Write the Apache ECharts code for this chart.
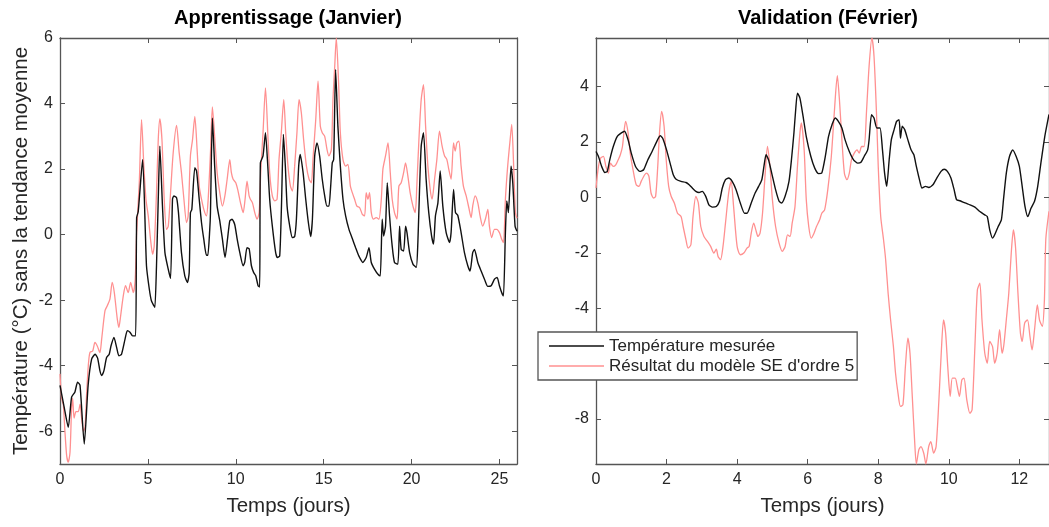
<!DOCTYPE html>
<html>
<head>
<meta charset="utf-8">
<script src="https://cdn.jsdelivr.net/npm/echarts@6/dist/echarts.min.js"></script>
<style>
  html, body { margin: 0; padding: 0; background: #fff; }
  #chart { width: 1049px; height: 527px; }
</style>
</head>
<body>
<div id="chart"></div>
<script>
// January (training) - measured temperature, [day, °C]
const janMeasured = [
  [0,-4.6],[0.25,-5.3],[0.47,-5.88],[0.66,-4.96],[0.85,-4.8],[1.0,-4.5],[1.14,-4.6],[1.38,-6.39],
  [1.6,-4.6],[1.8,-3.8],[2.0,-3.65],[2.14,-3.77],[2.27,-4.15],[2.37,-4.3],[2.5,-4.15],[2.65,-3.75],
  [2.8,-3.65],[2.9,-3.4],[3.07,-3.14],[3.22,-3.44],[3.35,-3.7],[3.5,-3.65],[3.7,-3.19],[3.83,-2.93],
  [3.98,-2.98],[4.13,-3.09],[4.3,-3.09],[4.36,0.52],[4.45,0.7],[4.7,2.29],[4.92,-0.95],[5.08,-1.66],
  [5.2,-2.02],[5.34,-2.17],[5.4,-2.22],[5.49,-0.95],[5.59,1.08],[5.68,2.7],[5.83,0.87],[5.97,-0.55],
  [6.16,-1.06],[6.29,-1.34],[6.4,1.08],[6.48,1.18],[6.63,1.13],[6.74,0.67],[6.91,-0.55],[7.1,-1.26],
  [7.25,-1.46],[7.35,-1.16],[7.42,0.67],[7.5,0.77],[7.67,2.04],[7.77,1.94],[7.92,1.08],[8.05,0.37],
  [8.18,-0.14],[8.33,-0.63],[8.41,-0.63],[8.52,0.16],[8.56,0.67],[8.67,3.56],[8.8,2.09],[8.94,0.87],
  [9.09,0.42],[9.24,-0.14],[9.39,-0.7],[9.53,-0.14],[9.66,0.42],[9.79,0.47],[9.94,0.31],[10.08,-0.14],
  [10.23,-0.55],[10.42,-0.95],[10.51,-0.85],[10.64,-0.4],[10.76,-0.43],[10.89,-0.95],[11.02,-1.16],
  [11.14,-1.26],[11.27,-1.56],[11.36,-1.6],[11.4,2.19],[11.55,2.4],[11.69,3.11],[11.8,2.29],[11.93,1.08],
  [12.08,0.26],[12.27,-0.55],[12.37,-0.7],[12.5,-0.65],[12.6,0.87],[12.71,3.06],[12.82,2.09],[12.92,0.87],
  [13.07,0.26],[13.22,-0.09],[13.35,-0.06],[13.45,0.47],[13.58,2.09],[13.67,2.45],[13.83,1.89],[13.98,1.08],
  [14.13,0.37],[14.26,-0.06],[14.36,0.47],[14.49,2.4],[14.62,2.8],[14.77,2.4],[14.92,1.69],[15.06,1.18],
  [15.19,0.87],[15.3,0.87],[15.4,1.48],[15.49,2.19],[15.57,2.29],[15.68,5.04],[15.81,3.31],[15.95,2.09],
  [16.1,1.08],[16.25,0.57],[16.44,0.16],[16.63,-0.12],[16.82,-0.4],[17.0,-0.65],[17.23,-0.85],[17.42,-0.7],
  [17.58,-0.4],[17.71,-0.85],[17.9,-1.06],[18.09,-1.21],[18.22,-1.26],[18.33,0.47],[18.41,-0.04],[18.52,0.26],
  [18.62,1.58],[18.75,0.57],[18.9,-0.35],[19.03,-0.85],[19.22,-0.9],[19.32,0.26],[19.41,-0.45],[19.55,-0.5],
  [19.66,0.26],[19.74,0.06],[19.89,-0.55],[20.08,-0.9],[20.27,-1.0],[20.36,-0.24],[20.45,1.28],[20.55,2.7],
  [20.68,3.11],[20.83,1.69],[20.98,0.67],[21.14,-0.04],[21.25,-0.29],[21.36,0.57],[21.5,0.97],[21.63,1.94],
  [21.78,0.87],[21.97,0.06],[22.16,-0.24],[22.25,0.06],[22.39,1.38],[22.5,0.67],[22.63,0.59],[22.82,0.06],
  [23.01,-0.55],[23.2,-0.95],[23.33,-1.11],[23.48,-0.55],[23.58,-0.45],[23.77,-0.85],[23.96,-1.11],
  [24.15,-1.36],[24.34,-1.58],[24.53,-1.56],[24.72,-1.36],[24.87,-1.31],[25.0,-1.56],[25.13,-1.77],
  [25.23,-1.87],[25.34,0.06],[25.42,1.03],[25.51,0.67],[25.66,2.09],[25.76,1.58],[25.89,0.26],[26.0,0.1]
];

// January - 5th order SE model output
const janModel = [
  [0,-4.25],[0.09,-5.0],[0.19,-5.2],[0.28,-6.0],[0.38,-6.75],[0.47,-6.94],[0.57,-6.64],[0.66,-5.3],
  [0.72,-5.0],[0.8,-5.6],[0.91,-5.4],[1.04,-5.4],[1.14,-5.17],[1.23,-5.6],[1.33,-6.0],[1.42,-5.89],
  [1.52,-4.8],[1.61,-4.0],[1.7,-3.6],[1.86,-3.55],[1.99,-3.29],[2.12,-3.4],[2.27,-3.6],[2.37,-3.19],
  [2.56,-2.32],[2.69,-2.17],[2.84,-1.97],[2.97,-1.46],[3.09,-1.77],[3.26,-2.58],[3.35,-2.83],[3.45,-2.48],
  [3.6,-1.87],[3.73,-1.56],[3.88,-1.77],[4.02,-1.46],[4.17,-1.77],[4.28,-1.36],[4.36,0.06],[4.51,1.58],
  [4.64,3.51],[4.77,2.09],[4.89,1.08],[5.02,0.57],[5.15,-0.14],[5.27,-0.6],[5.36,-0.35],[5.49,1.28],
  [5.59,2.9],[5.68,3.53],[5.8,2.9],[5.93,1.08],[6.06,0.16],[6.16,0.26],[6.29,1.28],[6.44,2.5],
  [6.63,3.33],[6.78,2.5],[6.91,1.89],[7.05,1.08],[7.2,0.37],[7.29,0.57],[7.42,2.4],[7.54,2.9],
  [7.67,3.61],[7.8,2.6],[7.92,1.48],[8.05,1.08],[8.18,0.77],[8.33,0.57],[8.43,1.08],[8.56,2.5],
  [8.67,3.9],[8.81,2.9],[8.94,1.89],[9.09,1.28],[9.24,0.87],[9.38,1.18],[9.51,1.69],[9.66,2.29],
  [9.75,1.89],[9.85,1.69],[10.0,1.58],[10.13,1.33],[10.27,0.97],[10.42,0.67],[10.53,1.08],[10.64,1.63],
  [10.76,1.18],[10.83,1.08],[10.95,0.97],[11.08,0.67],[11.21,0.47],[11.33,0.67],[11.42,1.89],[11.55,3.11],
  [11.69,4.48],[11.82,3.11],[11.93,1.89],[12.08,1.18],[12.22,1.03],[12.35,1.08],[12.46,2.29],[12.59,3.11],
  [12.73,4.12],[12.84,3.11],[12.97,2.09],[13.11,1.48],[13.22,1.33],[13.35,2.09],[13.48,3.11],[13.6,4.12],
  [13.73,3.72],[13.86,2.9],[14.02,2.09],[14.17,1.69],[14.3,1.58],[14.39,2.29],[14.55,3.51],[14.68,4.68],
  [14.81,3.31],[14.92,3.11],[15.06,3.0],[15.19,2.6],[15.3,2.4],[15.44,2.6],[15.53,4.12],[15.63,5.14],
  [15.72,6.0],[15.85,4.63],[15.95,3.11],[16.1,2.29],[16.25,2.09],[16.38,2.14],[16.52,1.48],[16.63,1.28],
  [16.76,1.08],[16.89,0.87],[17.05,0.82],[17.2,0.62],[17.33,0.57],[17.42,1.28],[17.52,1.08],[17.61,1.28],
  [17.71,0.67],[17.84,0.47],[17.99,0.52],[18.14,0.47],[18.28,1.08],[18.37,1.99],[18.52,2.4],[18.66,2.8],
  [18.79,1.89],[18.9,1.08],[19.03,0.67],[19.17,0.47],[19.28,1.48],[19.41,1.58],[19.55,1.89],[19.66,2.19],
  [19.79,1.79],[19.92,1.28],[20.08,0.87],[20.21,0.67],[20.3,1.48],[20.42,2.9],[20.55,4.12],[20.68,4.58],
  [20.8,3.31],[20.93,2.09],[21.06,1.38],[21.17,1.08],[21.31,1.69],[21.44,2.29],[21.59,3.16],[21.74,2.7],
  [21.88,2.4],[22.01,2.29],[22.12,1.99],[22.25,1.69],[22.39,2.8],[22.48,2.55],[22.58,2.8],[22.69,2.85],
  [22.82,2.09],[22.95,1.48],[23.11,1.18],[23.26,0.82],[23.39,0.52],[23.48,0.87],[23.62,1.18],[23.77,0.97],
  [23.9,0.57],[24.05,0.26],[24.2,0.47],[24.34,0.77],[24.43,0.26],[24.56,-0.09],[24.72,0.16],[24.85,0.16],
  [25.0,0.06],[25.13,-0.14],[25.23,-0.24],[25.34,1.08],[25.47,2.09],[25.61,2.9],[25.7,3.36],[25.81,2.09],
  [25.91,0.67],[26.0,0.5]
];

// February (validation) - measured temperature
const febMeasured = [
  [0,1.66],[0.07,1.48],[0.16,1.12],[0.25,0.9],[0.32,0.94],[0.39,1.36],[0.49,1.84],[0.6,2.2],[0.72,2.33],
  [0.81,2.39],[0.91,2.08],[1.0,1.6],[1.12,1.12],[1.24,0.94],[1.35,1.0],[1.47,1.36],[1.59,1.66],[1.7,1.96],
  [1.82,2.23],[1.89,2.14],[2.0,1.72],[2.1,1.24],[2.19,0.82],[2.27,0.66],[2.41,0.58],[2.55,0.54],[2.64,0.46],
  [2.73,0.34],[2.83,0.22],[2.92,0.18],[3.01,0.22],[3.11,0.04],[3.2,-0.27],[3.3,-0.35],[3.41,-0.33],
  [3.5,-0.14],[3.58,0.34],[3.67,0.64],[3.76,0.7],[3.86,0.58],[3.97,0.28],[4.09,-0.2],[4.21,-0.57],
  [4.28,-0.57],[4.4,-0.2],[4.51,0.16],[4.61,0.4],[4.7,0.64],[4.76,1.12],[4.82,1.54],[4.89,1.36],[4.98,0.88],
  [5.09,0.28],[5.19,-0.14],[5.26,-0.2],[5.36,0.04],[5.47,0.58],[5.54,1.36],[5.61,2.33],[5.66,3.17],
  [5.71,3.77],[5.78,3.59],[5.87,2.93],[5.96,2.2],[6.09,1.48],[6.2,1.06],[6.31,0.86],[6.4,0.88],[6.5,1.48],
  [6.59,2.2],[6.69,2.63],[6.78,2.87],[6.87,2.75],[6.97,2.51],[7.06,2.08],[7.18,1.66],[7.3,1.36],[7.42,1.24],
  [7.51,1.27],[7.6,1.48],[7.7,1.72],[7.74,2.08],[7.81,2.99],[7.88,2.87],[7.96,2.51],[8.05,2.51],[8.12,1.72],
  [8.18,0.88],[8.24,0.4],[8.31,1.36],[8.37,2.08],[8.45,2.45],[8.52,2.75],[8.59,2.81],[8.63,2.14],[8.68,2.57],
  [8.75,2.45],[8.84,2.08],[8.93,1.72],[9.01,1.54],[9.08,1.12],[9.18,0.58],[9.24,0.34],[9.34,0.4],[9.43,0.36],
  [9.55,0.46],[9.66,0.7],[9.78,0.94],[9.87,1.02],[9.96,0.94],[10.06,0.7],[10.15,0.28],[10.22,-0.08],
  [10.32,-0.12],[10.46,-0.2],[10.6,-0.27],[10.74,-0.35],[10.88,-0.51],[11.02,-0.63],[11.09,-0.69],
  [11.16,-1.17],[11.24,-1.47],[11.3,-1.35],[11.4,-1.05],[11.49,-0.81],[11.55,-0.08],[11.63,0.88],
  [11.72,1.48],[11.81,1.72],[11.91,1.48],[12.0,1.12],[12.08,0.4],[12.16,-0.33],[12.24,-0.69],[12.33,-0.39],
  [12.43,-0.14],[12.52,0.4],[12.61,1.24],[12.72,2.2],[12.84,3.0]
];

// February - 5th order SE model output
const febModel = [
  [0,0.34],[0.07,1.12],[0.13,1.42],[0.21,1.48],[0.28,1.12],[0.35,0.88],[0.41,1.24],[0.49,1.12],[0.56,1.18],
  [0.63,1.36],[0.69,1.54],[0.75,1.84],[0.8,2.45],[0.84,2.75],[0.91,2.33],[0.97,1.6],[1.05,1.0],[1.14,0.46],
  [1.22,0.4],[1.28,0.58],[1.38,0.82],[1.44,0.88],[1.5,0.76],[1.56,0.16],[1.63,-0.02],[1.69,0.04],[1.75,1.12],
  [1.8,2.33],[1.86,3.11],[1.93,2.57],[1.99,1.36],[2.06,0.4],[2.13,0.04],[2.22,-0.2],[2.31,-0.57],[2.41,-0.69],
  [2.47,-1.05],[2.55,-1.53],[2.61,-1.83],[2.69,-1.71],[2.75,-0.69],[2.83,0.04],[2.9,-0.2],[2.97,-1.05],
  [3.06,-1.41],[3.16,-1.59],[3.25,-1.77],[3.34,-2.01],[3.41,-1.87],[3.46,-2.13],[3.53,-2.25],[3.6,-1.77],
  [3.67,-0.93],[3.76,0.16],[3.83,0.58],[3.9,-0.33],[4.0,-1.77],[4.09,-2.07],[4.19,-2.01],[4.28,-1.83],
  [4.34,-1.77],[4.4,-1.29],[4.47,-0.93],[4.53,-1.17],[4.59,-1.41],[4.65,-1.29],[4.72,-0.57],[4.79,0.76],
  [4.86,1.84],[4.93,1.12],[5.0,-0.08],[5.09,-1.05],[5.19,-1.65],[5.28,-1.95],[5.36,-1.77],[5.43,-1.35],
  [5.5,-1.41],[5.56,-0.93],[5.64,-0.33],[5.71,1.12],[5.78,2.33],[5.82,2.69],[5.9,1.72],[5.96,-0.08],
  [6.03,-1.05],[6.1,-1.47],[6.18,-1.29],[6.25,-1.05],[6.34,-0.81],[6.4,-0.57],[6.48,-0.45],[6.57,0.28],
  [6.67,1.48],[6.76,3.17],[6.84,4.4],[6.9,3.53],[6.97,2.08],[7.04,0.88],[7.11,0.64],[7.18,0.88],[7.24,1.36],
  [7.32,1.6],[7.4,1.72],[7.46,1.6],[7.53,1.84],[7.6,1.84],[7.67,3.17],[7.74,4.73],[7.82,5.76],[7.88,5.1],
  [7.95,3.05],[8.0,1.12],[8.07,-0.69],[8.15,-1.53],[8.21,-2.25],[8.28,-3.46],[8.35,-4.42],[8.43,-5.39],
  [8.49,-6.35],[8.56,-7.07],[8.63,-7.55],[8.7,-7.49],[8.77,-6.11],[8.84,-5.08],[8.9,-5.63],[8.96,-7.07],
  [9.03,-8.76],[9.08,-9.63],[9.15,-9.12],[9.21,-9.0],[9.29,-9.24],[9.35,-9.63],[9.43,-9.0],[9.49,-8.82],
  [9.57,-9.24],[9.64,-9.0],[9.72,-7.31],[9.79,-5.51],[9.85,-4.42],[9.91,-4.9],[9.97,-6.11],[10.04,-7.19],
  [10.1,-6.53],[10.18,-6.53],[10.24,-6.83],[10.3,-7.19],[10.37,-6.59],[10.43,-6.53],[10.51,-7.31],
  [10.6,-7.8],[10.66,-7.67],[10.74,-5.39],[10.81,-3.34],[10.88,-3.1],[10.94,-4.42],[11.02,-5.63],
  [11.09,-5.99],[11.16,-5.2],[11.24,-5.39],[11.3,-5.99],[11.37,-5.63],[11.44,-4.78],[11.51,-5.63],
  [11.56,-5.33],[11.63,-4.42],[11.7,-3.46],[11.77,-2.01],[11.83,-1.17],[11.89,-1.77],[11.96,-3.46],
  [12.03,-4.9],[12.08,-5.2],[12.15,-4.54],[12.23,-4.42],[12.3,-5.02],[12.36,-5.51],[12.43,-4.78],
  [12.51,-3.88],[12.57,-4.42],[12.65,-4.66],[12.71,-3.7],[12.75,-1.5],[12.84,-0.5]
];

const janXTicks = [0, 5, 10, 15, 20, 25];
const janYTicks = [-6, -4, -2, 0, 2, 4, 6];
const febXTicks = [0, 2, 4, 6, 8, 10, 12];
const febYTicks = [-8, -6, -4, -2, 0, 2, 4];

const seriesNames = ['Température mesurée', "Résultat du modèle SE d'ordre 5"];
const titles = ['Apprentissage (Janvier)', 'Validation (Février)'];

const axisColor = '#555';
const labelColor = '#262626';
const fontFamily = 'Liberation Sans, Arial, sans-serif';

function xAx(grid, min, max, ticks, top, name) {
  return {
    type: 'value', gridIndex: grid, min: min, max: max,
    position: top ? 'top' : 'bottom',
    name: top ? '' : name, nameLocation: 'middle', nameGap: 32,
    nameTextStyle: { fontSize: 20.5, color: labelColor, fontFamily },
    axisLine: { show: true, onZero: false, lineStyle: { color: axisColor, width: 1.3 } },
    axisTick: { show: true, inside: true, length: 5, customValues: ticks, lineStyle: { color: axisColor } },
    axisLabel: { show: !top, customValues: ticks, margin: 8, fontSize: 16, color: labelColor, fontFamily },
    splitLine: { show: false }
  };
}

function yAx(grid, min, max, ticks, right, name) {
  return {
    type: 'value', gridIndex: grid, min: min, max: max,
    position: right ? 'right' : 'left',
    name: right ? '' : name, nameLocation: 'middle', nameGap: 28,
    nameTextStyle: { fontSize: 20.5, color: labelColor, fontFamily },
    axisLine: { show: true, onZero: false, lineStyle: { color: axisColor, width: 1.3 } },
    axisTick: { show: true, inside: true, length: 5, customValues: ticks, lineStyle: { color: axisColor } },
    axisLabel: { show: !right, customValues: ticks, margin: 7, fontSize: 16, color: labelColor, fontFamily },
    splitLine: { show: false }
  };
}

const chart = echarts.init(document.getElementById('chart'));

const blackLine = { color: '#111', width: 1.4 };
const redLine = { color: '#ff9090', width: 1.3 };

const option = {
  animation: false,
  backgroundColor: '#fff',
  grid: [
    { left: 60, top: 38, width: 457, height: 426 },
    { left: 596, top: 38, width: 457, height: 426 }
  ],
  xAxis: [
    xAx(0, 0, 26, janXTicks, false, 'Temps (jours)'),
    xAx(0, 0, 26, janXTicks, true),
    xAx(1, 0, 12.84, febXTicks, false, 'Temps (jours)'),
    xAx(1, 0, 12.84, febXTicks, true)
  ],
  yAxis: [
    yAx(0, -7, 6, janYTicks, false, 'Température (°C) sans la tendance moyenne'),
    yAx(0, -7, 6, janYTicks, true),
    yAx(1, -9.63, 5.76, febYTicks, false, ''),
    yAx(1, -9.63, 5.76, febYTicks, true)
  ],
  legend: {
    orient: 'vertical',
    left: 538, top: 332,
    padding: [5, 3, 5, 11],
    itemGap: 2,
    icon: 'rect',
    itemWidth: 55, itemHeight: 1.6,
    backgroundColor: '#fff',
    borderColor: axisColor, borderWidth: 1.3, borderRadius: 0,
    textStyle: { fontSize: 17, lineHeight: 18, color: labelColor, fontFamily },
    data: seriesNames
  },
  graphic: [
    { type: 'text', x: 288, y: 18, style: { text: titles[0], textAlign: 'center', textVerticalAlign: 'middle',
      font: 'bold 20px ' + fontFamily, fill: '#000' } },
    { type: 'text', x: 828, y: 18, style: { text: titles[1], textAlign: 'center', textVerticalAlign: 'middle',
      font: 'bold 20px ' + fontFamily, fill: '#000' } }
  ],
  series: [
    { name: seriesNames[1], type: 'line', xAxisIndex: 0, yAxisIndex: 0, data: janModel,
      showSymbol: false, symbol: 'none', smooth: 0.25, lineStyle: redLine, itemStyle: { color: redLine.color } },
    { name: seriesNames[0], type: 'line', xAxisIndex: 0, yAxisIndex: 0, data: janMeasured,
      showSymbol: false, symbol: 'none', smooth: 0.2, lineStyle: blackLine, itemStyle: { color: blackLine.color } },
    { name: seriesNames[1], type: 'line', xAxisIndex: 2, yAxisIndex: 2, data: febModel,
      showSymbol: false, symbol: 'none', smooth: 0.25, lineStyle: redLine, itemStyle: { color: redLine.color } },
    { name: seriesNames[0], type: 'line', xAxisIndex: 2, yAxisIndex: 2, data: febMeasured,
      showSymbol: false, symbol: 'none', smooth: 0.2, lineStyle: blackLine, itemStyle: { color: blackLine.color } }
  ]
};

chart.setOption(option);
window.addEventListener('resize', () => chart.resize());
</script>
</body>
</html>
